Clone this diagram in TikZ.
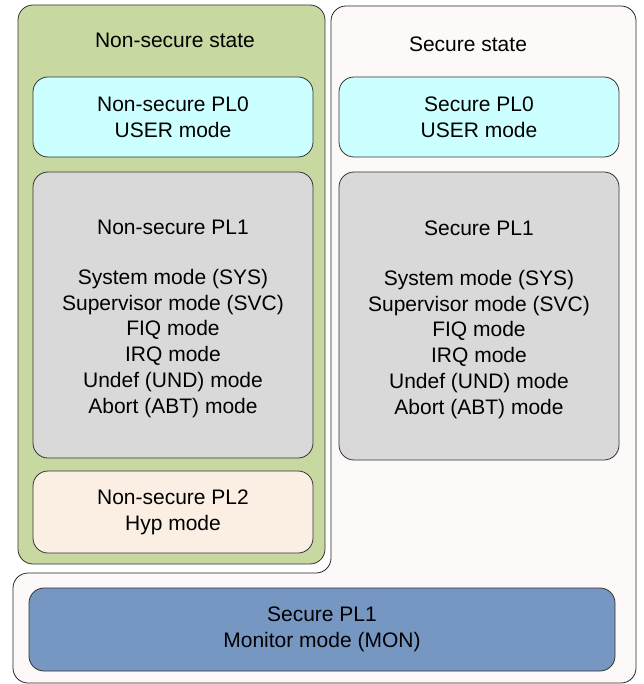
\documentclass[tikz,border=0pt]{standalone}
\usepackage{fontspec}
\setmainfont{Liberation Sans}
\usepackage{tikz}

\definecolor{nsgreen}{RGB}{200,216,161}
\definecolor{usercyan}{RGB}{204,255,255}
\definecolor{plgray}{RGB}{217,217,217}
\definecolor{hyppeach}{RGB}{251,239,227}
\definecolor{monblue}{RGB}{119,151,195}
\definecolor{securebg}{RGB}{253,249,248}

\begin{document}
\begin{tikzpicture}[x=1pt,y=-1pt,
  modebox/.style={draw=black!80,line width=0.8pt,rounded corners=15pt,align=center,
    inner sep=0pt,font=\fontsize{21}{25.8}\selectfont},
  title/.style={font=\fontsize{21}{25.8}\selectfont}]
\useasboundingbox (0,0) rectangle (643,684);

% secure world outline
\filldraw[fill=securebg,draw=black!85,line width=0.8pt,rounded corners=15pt]
  (480,6) -- (636,6) -- (636,683) -- (13,683) -- (13,573) -- (331,573) -- (331,6) -- cycle;

% non-secure world
\node[modebox,fill=nsgreen,minimum width=307,minimum height=559] (nsstate) at (171.5,284.5) {};
\node[title] (nstitle) at (175,40) {Non-secure state};
\node[title] (stitle) at (468,44) {Secure state};

\node[modebox,fill=usercyan,minimum width=280,minimum height=80] (nspl0) at (173,117)
  {Non-secure PL0\\USER mode};
\node[modebox,fill=plgray,minimum width=280,minimum height=286] (nspl1) at (173,315)
  {\rule{0pt}{22pt}Non-secure PL1\\[24.2pt]System mode (SYS)\\Supervisor mode (SVC)\\FIQ mode\\IRQ mode\\Undef (UND) mode\\Abort (ABT) mode};
\node[modebox,fill=hyppeach,minimum width=280,minimum height=82] (nspl2) at (173,512)
  {Non-secure PL2\\Hyp mode};

% secure world
\node[modebox,fill=usercyan,minimum width=280,minimum height=80] (spl0) at (479,117)
  {Secure PL0\\USER mode};
\node[modebox,fill=plgray,minimum width=280,minimum height=288] (spl1) at (479,316)
  {\rule{0pt}{22pt}Secure PL1\\[24.2pt]System mode (SYS)\\Supervisor mode (SVC)\\FIQ mode\\IRQ mode\\Undef (UND) mode\\Abort (ABT) mode};
\node[modebox,fill=monblue,minimum width=586,minimum height=83] (mon) at (322,629.5)
  {Secure PL1\\Monitor mode (MON)};
\end{tikzpicture}
\end{document}
